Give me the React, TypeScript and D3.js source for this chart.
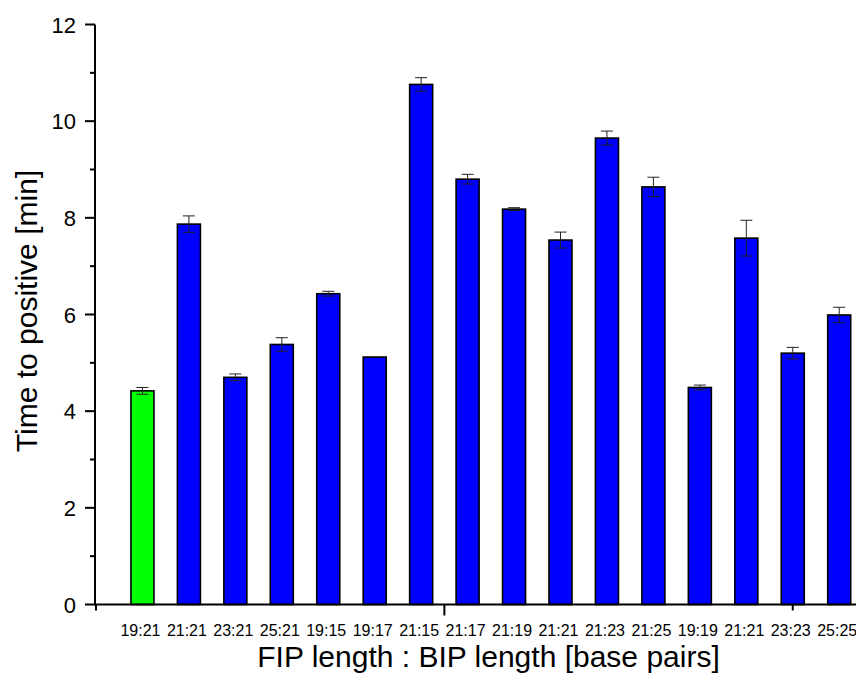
import React from "react";
import * as d3 from "d3";

const categories = ["19:21","21:21","23:21","25:21","19:15","19:17","21:15","21:17","21:19","21:21","21:23","21:25","19:19","21:21","23:23","25:25"];
const values = [4.42, 7.87, 4.70, 5.38, 6.43, 5.12, 10.76, 8.80, 8.18, 7.54, 9.65, 8.64, 4.49, 7.58, 5.20, 5.99];
const errors = [0.07, 0.17, 0.07, 0.14, 0.05, 0.0, 0.14, 0.10, 0.03, 0.165, 0.145, 0.20, 0.05, 0.37, 0.12, 0.16];
const colors = ["#00ff00","#0000ff","#0000ff","#0000ff","#0000ff","#0000ff","#0000ff","#0000ff","#0000ff","#0000ff","#0000ff","#0000ff","#0000ff","#0000ff","#0000ff","#0000ff"];
const yTicks = [0, 2, 4, 6, 8, 10, 12];
const yMinorTicks = [1, 3, 5, 7, 9, 11];
const xTicks = [0, 7.5, 15];
const xMajor = [7.5];

const W = 856, H = 675;
const FONT = "'Liberation Sans', Arial, Helvetica, sans-serif";

export default function App() {
  const x = d3.scaleLinear().domain([0, 16]).range([96, 96 + 16 * 46.45]);
  const y = d3.scaleLinear().domain([0, 12]).range([604.5, 24.5]);
  const barW = 23;
  const capW = 12;
  const x0 = 95;
  const y0 = y(0);

  return (
    <svg width={W} height={H} style={{ position: "absolute", left: 0, top: 0, background: "#fff" }} fontFamily={FONT}>
      <rect width={W} height={H} fill="#fff" />
      {values.map((v, i) => {
        const cx = x(i + 1);
        return (
          <g key={i}>
            <rect x={cx - barW / 2} y={y(v)} width={barW} height={y0 - y(v)} fill={colors[i]} stroke="#000" strokeWidth={1.6} />
            {errors[i] > 0 && (
              <g stroke="#222" strokeWidth={1}>
                <line x1={cx} x2={cx} y1={y(v + errors[i])} y2={y(v - errors[i])} />
                <line x1={cx - capW / 2} x2={cx + capW / 2} y1={y(v + errors[i])} y2={y(v + errors[i])} />
                <line x1={cx - capW / 2} x2={cx + capW / 2} y1={y(v - errors[i])} y2={y(v - errors[i])} />
              </g>
            )}
          </g>
        );
      })}
      {/* y axis */}
      <line x1={x0} x2={x0} y1={y(12)} y2={y0} stroke="#000" strokeWidth={2} />
      {yTicks.map((t) => (
        <g key={"yt" + t}>
          <line x1={x0 - 10} x2={x0} y1={y(t)} y2={y(t)} stroke="#000" strokeWidth={2} />
          <text x={76} y={y(t) + 8} fontSize={22} textAnchor="end" fill="#000">{t}</text>
        </g>
      ))}
      {yMinorTicks.map((t) => (
        <line key={"ym" + t} x1={x0 - 5} x2={x0} y1={y(t)} y2={y(t)} stroke="#000" strokeWidth={2} />
      ))}
      {/* x axis */}
      <line x1={x0 - 1} x2={W} y1={y0} y2={y0} stroke="#000" strokeWidth={2} />
      {xTicks.map((t) => (
        <line key={"xt" + t} x1={x(t)} x2={x(t)} y1={y0} y2={y0 + (xMajor.includes(t) ? 11 : 6)} stroke="#000" strokeWidth={2} />
      ))}
      {categories.map((c, i) => (
        <text key={"xl" + i} x={x(i + 1) - 2} y={636} fontSize={16} textAnchor="middle" fill="#000">{c}</text>
      ))}
      <text x={488.5} y={667} fontSize={30} textAnchor="middle" fill="#000">FIP length : BIP length [base pairs]</text>
      <text transform={`translate(37,311) rotate(-90)`} fontSize={30} textAnchor="middle" fill="#000">Time to positive [min]</text>
    </svg>
  );
}
